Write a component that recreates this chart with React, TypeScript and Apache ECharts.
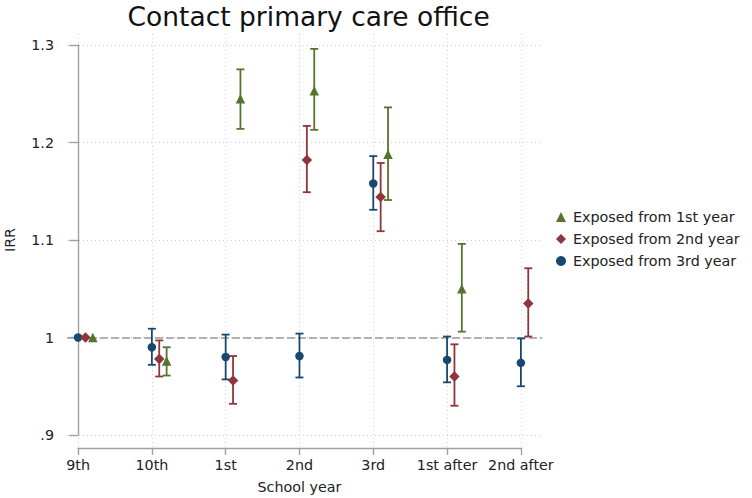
import React, { useEffect, useRef } from "react";
import * as echarts from "echarts";

const categories = ["9th", "10th", "1st", "2nd", "3rd", "1st after", "2nd after"];

const yearOneIRR = [1.0, 0.976, 1.245, 1.253, 1.188, 1.05, null];
const yearOneLow = [null, 0.961, 1.214, 1.213, 1.141, 1.006, null];
const yearOneHigh = [null, 0.99, 1.275, 1.296, 1.236, 1.096, null];

const yearTwoIRR = [1.0, 0.978, 0.956, 1.182, 1.144, 0.96, 1.035];
const yearTwoLow = [null, 0.96, 0.932, 1.149, 1.109, 0.93, 1.001];
const yearTwoHigh = [null, 0.997, 0.981, 1.217, 1.179, 0.993, 1.071];

const yearThreeIRR = [1.0, 0.99, 0.98, 0.981, 1.158, 0.977, 0.974];
const yearThreeLow = [null, 0.972, 0.957, 0.959, 1.131, 0.954, 0.95];
const yearThreeHigh = [null, 1.009, 1.003, 1.004, 1.186, 1.001, 0.999];

const yTicks = [0.9, 1.0, 1.1, 1.2, 1.3];

const NAVY = "#1a476f";
const MAROON = "#90353b";
const GREEN = "#55752f";
const FONT = "DejaVu Sans";
const FS = 14.3;

const UNIT = 73.8;
const XMIN = -0.15;
const XMAX = 6.29;
const PLOT_LEFT = 67;

function points(vals: (number | null)[], offset: number) {
  const out: number[][] = [];
  vals.forEach((v, i) => {
    if (v != null) out.push([i + offset, v]);
  });
  return out;
}

function bars(lo: (number | null)[], hi: (number | null)[], offset: number) {
  const out: number[][] = [];
  lo.forEach((l, i) => {
    const h = hi[i];
    if (l != null && h != null) out.push([i + offset, l, h]);
  });
  return out;
}

function errorSeries(name: string, color: string, data: number[][], extra: any = {}) {
  return {
    name,
    type: "custom",
    xAxisIndex: 0,
    yAxisIndex: 0,
    z: 3,
    data,
    renderItem: (params: any, api: any) => {
      const x = api.value(0);
      const pLo = api.coord([x, api.value(1)]);
      const pHi = api.coord([x, api.value(2)]);
      const w = 4;
      const style = { stroke: color, lineWidth: 1.8, fill: "none" };
      return {
        type: "group",
        children: [
          { type: "line", shape: { x1: pLo[0], y1: pLo[1], x2: pHi[0], y2: pHi[1] }, style },
          { type: "line", shape: { x1: pLo[0] - w, y1: pLo[1], x2: pLo[0] + w, y2: pLo[1] }, style },
          { type: "line", shape: { x1: pHi[0] - w, y1: pHi[1], x2: pHi[0] + w, y2: pHi[1] }, style },
        ],
      };
    },
    ...extra,
  };
}

export default function App() {
  const ref = useRef<HTMLDivElement>(null);
  useEffect(() => {
    if (!ref.current) return;
    const chart = echarts.init(ref.current, undefined, { renderer: "svg" });
    const plotWidth = (XMAX - XMIN) * UNIT;
    const axisLeft = PLOT_LEFT + (0 - XMIN) * UNIT;
    const axisWidth = 6 * UNIT;
    const dotted = { color: "#cfcfcf", width: 1, type: [1, 3] as any };
    chart.setOption({
      animation: false,
      backgroundColor: "#ffffff",
      textStyle: { fontFamily: FONT },
      title: {
        text: "Contact primary care office",
        left: PLOT_LEFT + plotWidth / 2 - 1,
        textAlign: "center",
        top: -2,
        textStyle: { fontFamily: FONT, fontSize: 26.5, fontWeight: "normal", color: "#111" },
      },
      grid: [
        { left: PLOT_LEFT, top: 45, width: plotWidth, height: 390, containLabel: false, outerBoundsMode: "none" },
        { left: axisLeft, top: 34, width: axisWidth, height: 414, containLabel: false, outerBoundsMode: "none" },
      ],
      xAxis: [
        {
          type: "value",
          gridIndex: 0,
          min: XMIN,
          max: XMAX,
          show: false,
          splitLine: { show: false },
        },
        {
          type: "value",
          gridIndex: 1,
          min: 0,
          max: 6,
          interval: 1,
          name: "School year",
          nameLocation: "middle",
          nameGap: 32,
          nameTextStyle: { fontFamily: FONT, fontSize: FS, color: "#222" },
          axisLine: { show: true, lineStyle: { color: "#a0a0a0", width: 1.4 } },
          axisTick: { show: true, length: 7, lineStyle: { color: "#a0a0a0", width: 1.4 } },
          axisLabel: {
            margin: 10,
            fontFamily: FONT,
            fontSize: FS,
            color: "#222",
            formatter: (v: number) => categories[Math.round(v)] ?? "",
          },
          splitLine: { show: true, lineStyle: dotted },
        },
      ],
      yAxis: [
        {
          type: "value",
          gridIndex: 0,
          min: 0.9,
          max: 1.3,
          interval: 0.1,
          name: "IRR",
          nameLocation: "middle",
          nameGap: 50,
          nameRotate: 90,
          nameTextStyle: { fontFamily: FONT, fontSize: FS, color: "#222" },
          axisLine: { show: true, lineStyle: { color: "#a0a0a0", width: 1.4 } },
          axisTick: { show: true, length: 9, lineStyle: { color: "#a0a0a0", width: 1.4 } },
          axisLabel: {
            margin: 13,
            fontFamily: FONT,
            fontSize: FS,
            color: "#222",
            formatter: (v: number) => {
              const t = yTicks.find((k) => Math.abs(k - v) < 1e-6);
              if (t == null) return "";
              if (Math.abs(t - 1) < 1e-6) return "1";
              return t < 1 ? t.toFixed(1).replace(/^0/, "") : t.toFixed(1);
            },
          },
          splitLine: { show: true, lineStyle: dotted },
        },
        { type: "value", gridIndex: 1, min: 0, max: 1, show: false, splitLine: { show: false } },
      ],
      legend: {
        orient: "vertical",
        left: 551,
        top: 205,
        itemGap: 8,
        itemWidth: 10,
        itemHeight: 10,
        textStyle: { fontFamily: FONT, fontSize: FS, color: "#222", padding: [0, 0, 0, 2] },
        data: [
          { name: "Exposed from 1st year", icon: "triangle" },
          { name: "Exposed from 2nd year", icon: "diamond" },
          { name: "Exposed from 3rd year", icon: "circle" },
        ],
      },
      series: [
        errorSeries("ci3", NAVY, bars(yearThreeLow, yearThreeHigh, 0), {
          markLine: {
            silent: true,
            symbol: "none",
            label: { show: false },
            lineStyle: { color: "#9a9a9a", width: 1.6, type: [8, 3] },
            data: [{ yAxis: 1 }],
            z: 1,
          },
        }),
        errorSeries("ci2", MAROON, bars(yearTwoLow, yearTwoHigh, 0.1)),
        errorSeries("ci1", GREEN, bars(yearOneLow, yearOneHigh, 0.2)),
        {
          name: "Exposed from 3rd year",
          type: "scatter",
          xAxisIndex: 0,
          yAxisIndex: 0,
          z: 4,
          symbol: "circle",
          symbolSize: 8.5,
          itemStyle: { color: NAVY, opacity: 1 },
          data: points(yearThreeIRR, 0),
        },
        {
          name: "Exposed from 2nd year",
          type: "scatter",
          xAxisIndex: 0,
          yAxisIndex: 0,
          z: 4,
          symbol: "diamond",
          symbolSize: 10.5,
          itemStyle: { color: MAROON, opacity: 1 },
          data: points(yearTwoIRR, 0.1),
        },
        {
          name: "Exposed from 1st year",
          type: "scatter",
          xAxisIndex: 0,
          yAxisIndex: 0,
          z: 4,
          symbol: "triangle",
          symbolSize: 9.5,
          itemStyle: { color: GREEN, opacity: 1 },
          data: points(yearOneIRR, 0.2),
        },
      ],
    });
    return () => chart.dispose();
  }, []);
  return (
    <div
      ref={ref}
      style={{ position: "fixed", left: 0, top: 0, width: 752, height: 498, background: "#fff" }}
    />
  );
}
